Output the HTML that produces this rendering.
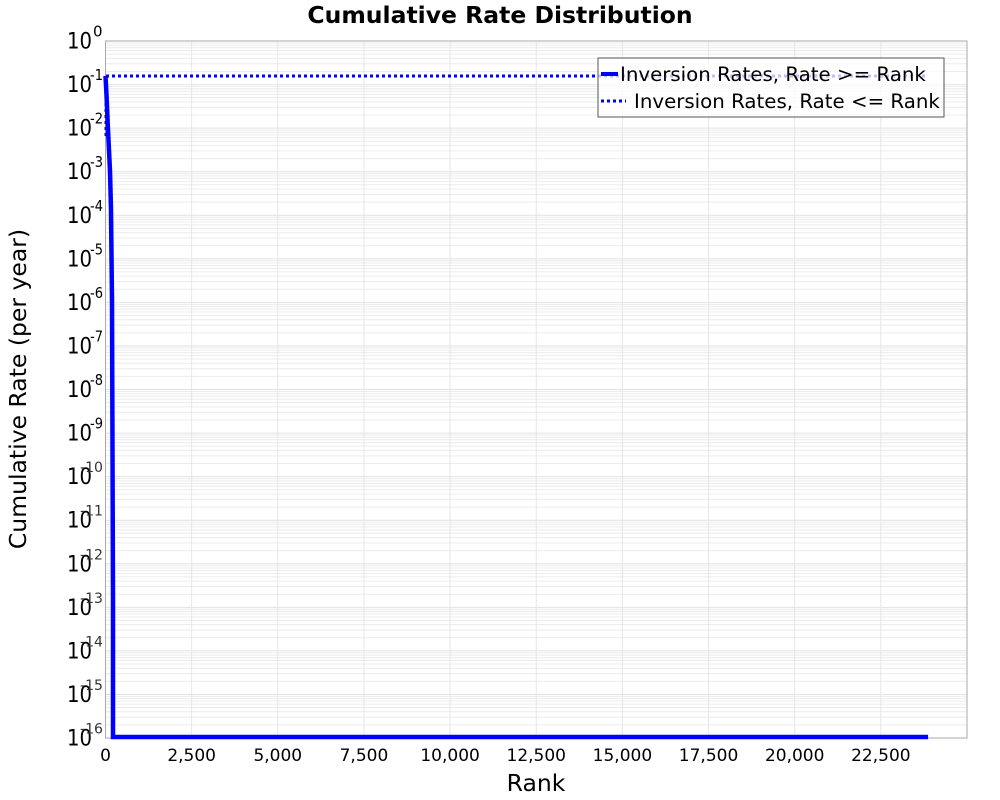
<!DOCTYPE html>
<html><head><style>body{margin:0;background:#fff}svg{display:block}</style></head>
<body>
<svg id="s" width="1000" height="800" xmlns="http://www.w3.org/2000/svg" font-family="DejaVu Sans, Liberation Sans, sans-serif"></svg>
<script>
const s=document.getElementById('s');
const X0=105.5,X1=967,Y0=41,Y1=738;
const px=v=>X0+(X1-X0)*v/25000;
const py=e=>Y0+(Y1-Y0)*(-e)/16;
let h='';
h+=`<rect x="${X0}" y="${Y0}" width="${X1-X0}" height="${Y1-Y0}" fill="#fff"/>`;
for(let d=0;d<16;d++){for(let k=2;k<10;k++){const y=py(-d-1+Math.log10(k));h+=`<line x1="${X0}" x2="${X1}" y1="${y}" y2="${y}" stroke="#ececec" stroke-width="1"/>`;}}
for(let d=0;d<=16;d++){const y=py(-d);h+=`<line x1="${X0}" x2="${X1}" y1="${y}" y2="${y}" stroke="#e2e2e2"/>`;}
for(let i=0;i<=10;i++){const x=px(i*2500);h+=`<line x1="${x}" x2="${x}" y1="${Y0}" y2="${Y1}" stroke="#e6e6e6"/>`;}
h+=`<rect x="${X0}" y="${Y0}" width="${X1-X0}" height="${Y1-Y0}" fill="none" stroke="#aaa"/>`;
for(let d=0;d<=16;d++){const y=py(-d);
 h+=`<text x="92" y="${y+7.5}" font-size="22" text-anchor="end" textLength="25" lengthAdjust="spacingAndGlyphs">10</text>`;
 if(d==0) h+=`<text x="93" y="${y-4.5}" font-size="15">0</text>`;
 else if(d<10) h+=`<text x="90" y="${y-4.5}" font-size="15" textLength="13" lengthAdjust="spacingAndGlyphs">&#8209;${d}</text>`;
 else h+=`<text x="80" y="${y-4.5}" font-size="14" fill="#333" textLength="23" lengthAdjust="spacingAndGlyphs">&#8209;${d}</text>`;}
const lab=['0','2,500','5,000','7,500','10,000','12,500','15,000','17,500','20,000','22,500'];
lab.forEach((t,i)=>{h+=`<text x="${px(i*2500)}" y="761" font-size="17" text-anchor="middle">${t}</text>`;});
h+=`<text x="500" y="23" font-size="23.5" font-weight="bold" text-anchor="middle">Cumulative Rate Distribution</text>`;
h+=`<text x="536" y="791" font-size="23.5" text-anchor="middle">Rank</text>`;
h+=`<text transform="translate(26,389) rotate(-90)" font-size="23.5" text-anchor="middle">Cumulative Rate (per year)</text>`;
h+=`<polyline points="106,136 106,76 ${px(23870)},76" fill="none" stroke="#00f" stroke-width="3" stroke-dasharray="3,3"/>`;
h+=`<polyline points="105.5,76 106.5,95 108,130 110,171 111,210 112,300 112.5,450 113,600 113,737 ${px(23870)},737" fill="none" stroke="#00f" stroke-width="4.5"/>`;
h+=`<rect x="598" y="58" width="346" height="59" fill="#fff" fill-opacity="0.75" stroke="#555" stroke-width="1"/>`;
h+=`<line x1="601" x2="618" y1="74" y2="74" stroke="#00f" stroke-width="4"/>`;
h+=`<text x="620" y="81" font-size="19.8">Inversion Rates, Rate &gt;= Rank</text>`;
h+=`<line x1="601" x2="626" y1="101" y2="101" stroke="#00f" stroke-width="3" stroke-dasharray="3,3"/>`;
h+=`<text x="634" y="108" font-size="19.8">Inversion Rates, Rate &lt;= Rank</text>`;
s.innerHTML=h;
</script>
</body></html>
